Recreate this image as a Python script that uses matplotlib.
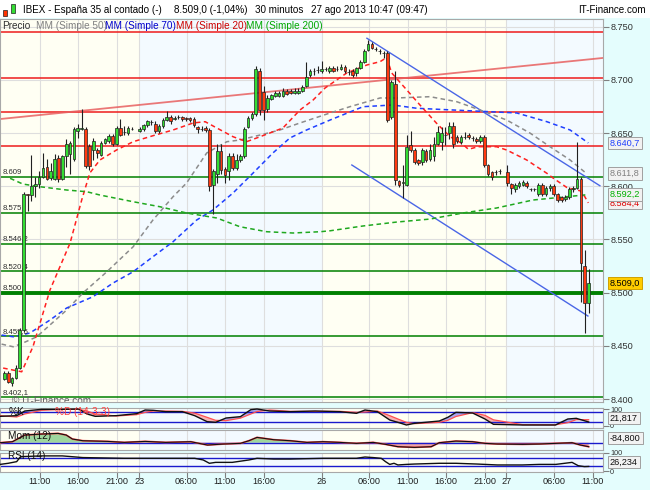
import matplotlib
matplotlib.use('Agg')
import matplotlib.pyplot as plt
import numpy as np
from matplotlib.patches import Rectangle

plt.rcParams['font.family'] = ['Liberation Sans', 'DejaVu Sans']

# ---------------- data: 30-minute candles (one slot each, NaN = no candle) -------------
nan = np.nan
opens = [8.419, 8.425, 8.415, 8.420, 8.429, 8.465, 8.593, 8.592, 8.600, 8.602,
         8.609, 8.618, 8.608, 8.607, 8.627, 8.607, 8.628, 8.630, 8.626, 8.652,
         8.654, 8.654, 8.638, 8.634, 8.634, 8.629, 8.641, 8.643, 8.647, 8.640,
         8.655, 8.651, 8.650, 8.654, nan, 8.652, 8.654, 8.658, 8.660, 8.659,
         8.652, 8.657, 8.662, 8.665, 8.663, 8.665, 8.665, 8.664, 8.664, 8.663,
         8.656, 8.654, 8.655, 8.653, 8.601, 8.612, 8.633, 8.616, 8.614, 8.628,
         8.617, 8.625, 8.628, 8.656, 8.664, 8.668, 8.708, 8.689, 8.673, 8.682,
         8.685, 8.685, 8.685, 8.690, 8.690, 8.688, 8.688, 8.690, 8.694, 8.705,
         8.708, 8.709, 8.708, 8.710, 8.708, 8.711, 8.710, 8.710, 8.712, 8.707,
         8.708, 8.706, 8.711, 8.717, 8.728, 8.734, 8.729, 8.727, 8.725, 8.725,
         8.665, 8.696, 8.605, 8.603, 8.601, 8.639, 8.634, 8.625, 8.623, 8.633,
         8.626, 8.628, 8.640, 8.642, 8.648, 8.650, 8.657, 8.646, 8.642, 8.646,
         8.648, 8.645, 8.644, 8.643, 8.646, 8.620, 8.613, 8.613, 8.614, nan,
         8.613, 8.602, 8.597, 8.600, 8.601, 8.603, 8.597, 8.597, 8.593, 8.601,
         8.593, 8.598, 8.600, 8.593, 8.590, 8.588, 8.590, 8.597, 8.598, 8.607,
         8.525, 8.490]
closes = [8.425, 8.416, 8.420, 8.429, 8.465, 8.593, 8.592, 8.600, 8.602, 8.609,
          8.617, 8.607, 8.614, 8.626, 8.607, 8.628, 8.640, 8.641, 8.654, 8.655,
          8.655, 8.619, 8.619, 8.643, 8.631, 8.641, 8.644, 8.647, 8.640, 8.655,
          8.648, 8.651, 8.655, 8.654, nan, 8.654, 8.658, 8.661, 8.660, 8.652,
          8.657, 8.662, 8.665, 8.661, 8.664, 8.665, 8.663, 8.663, 8.662, 8.658,
          8.654, 8.654, 8.653, 8.600, 8.614, 8.633, 8.615, 8.611, 8.628, 8.617,
          8.625, 8.628, 8.654, 8.664, 8.668, 8.710, 8.672, 8.672, 8.683, 8.686,
          8.688, 8.688, 8.690, 8.687, 8.688, 8.690, 8.690, 8.693, 8.703, 8.708,
          8.708, 8.709, 8.710, 8.710, 8.711, 8.708, 8.710, 8.712, 8.708, 8.707,
          8.705, 8.711, 8.717, 8.727, 8.734, 8.730, 8.729, 8.727, 8.725, 8.662,
          8.698, 8.606, 8.601, 8.604, 8.637, 8.634, 8.623, 8.622, 8.634, 8.625,
          8.634, 8.640, 8.651, 8.650, 8.648, 8.657, 8.640, 8.643, 8.646, 8.646,
          8.646, 8.645, 8.643, 8.646, 8.620, 8.612, 8.609, 8.613, 8.614, nan,
          8.603, 8.598, 8.601, 8.603, 8.604, 8.600, 8.597, 8.597, 8.601, 8.593,
          8.598, 8.600, 8.593, 8.587, 8.587, 8.590, 8.597, 8.598, 8.607, 8.528,
          8.490, 8.509]
highs = [8.426, 8.426, 8.421, 8.432, 8.467, 8.595, 8.593, 8.629, 8.609, 8.614,
         8.631, 8.626, 8.622, 8.630, 8.629, 8.629, 8.644, 8.643, 8.656, 8.659,
         8.673, 8.656, 8.640, 8.645, 8.636, 8.643, 8.645, 8.649, 8.649, 8.657,
         8.663, 8.657, 8.657, 8.656, nan, 8.656, 8.659, 8.662, 8.662, 8.661,
         8.659, 8.664, 8.671, 8.667, 8.666, 8.667, 8.666, 8.665, 8.665, 8.665,
         8.657, 8.657, 8.657, 8.655, 8.616, 8.640, 8.640, 8.618, 8.631, 8.631,
         8.630, 8.630, 8.656, 8.666, 8.670, 8.713, 8.711, 8.694, 8.686, 8.687,
         8.690, 8.690, 8.692, 8.691, 8.691, 8.692, 8.692, 8.695, 8.717, 8.710,
         8.711, 8.713, 8.718, 8.712, 8.713, 8.713, 8.713, 8.715, 8.714, 8.710,
         8.710, 8.712, 8.719, 8.729, 8.737, 8.736, 8.731, 8.729, 8.727, 8.727,
         8.700, 8.708, 8.606, 8.620, 8.648, 8.652, 8.636, 8.626, 8.636, 8.635,
         8.640, 8.646, 8.657, 8.656, 8.656, 8.660, 8.660, 8.648, 8.648, 8.651,
         8.650, 8.647, 8.646, 8.648, 8.648, 8.621, 8.614, 8.615, 8.616, nan,
         8.620, 8.603, 8.603, 8.605, 8.606, 8.605, 8.598, 8.598, 8.603, 8.603,
         8.600, 8.602, 8.602, 8.594, 8.591, 8.592, 8.599, 8.600, 8.642, 8.609,
         8.540, 8.522]
lows = [8.418, 8.415, 8.412, 8.419, 8.428, 8.463, 8.577, 8.586, 8.590, 8.598,
        8.608, 8.606, 8.606, 8.606, 8.604, 8.606, 8.618, 8.612, 8.624, 8.645,
        8.653, 8.617, 8.615, 8.625, 8.627, 8.628, 8.640, 8.641, 8.638, 8.639,
        8.647, 8.648, 8.648, 8.653, nan, 8.651, 8.652, 8.656, 8.658, 8.650,
        8.650, 8.655, 8.661, 8.659, 8.662, 8.663, 8.661, 8.661, 8.660, 8.656,
        8.650, 8.652, 8.651, 8.596, 8.574, 8.603, 8.612, 8.603, 8.606, 8.615,
        8.615, 8.623, 8.627, 8.655, 8.662, 8.666, 8.667, 8.662, 8.670, 8.681,
        8.684, 8.684, 8.684, 8.686, 8.687, 8.687, 8.687, 8.689, 8.693, 8.703,
        8.705, 8.706, 8.706, 8.708, 8.706, 8.707, 8.708, 8.709, 8.706, 8.705,
        8.703, 8.704, 8.710, 8.716, 8.727, 8.729, 8.727, 8.724, 8.721, 8.660,
        8.663, 8.601, 8.599, 8.589, 8.600, 8.632, 8.621, 8.620, 8.620, 8.623,
        8.624, 8.624, 8.639, 8.634, 8.639, 8.644, 8.636, 8.641, 8.640, 8.644,
        8.644, 8.643, 8.641, 8.641, 8.618, 8.610, 8.606, 8.611, 8.612, nan,
        8.600, 8.593, 8.595, 8.598, 8.600, 8.598, 8.596, 8.596, 8.591, 8.591,
        8.591, 8.596, 8.591, 8.585, 8.585, 8.586, 8.588, 8.595, 8.597, 8.491,
        8.462, 8.481]

# time-axis ticks (slot positions) and labels
tick_slots = [9.2, 19.0, 29.0, 34.9, 47.1, 57.0, 67.1, 82.1, 94.2, 104.3, 114.1,
              124.2, 129.7, 142.0, 152.1]
tick_labels = ['11:00', '16:00', '21:00', '23', '06:00', '11:00', '16:00', '26',
               '06:00', '11:00', '16:00', '21:00', '27', '06:00', '11:00']
day_breaks = [34.9, 82.1, 129.7]

# moving averages (slot, value)
ma20_x = [-0.3, 4.5, 7.4, 11.8, 17.0, 20.0, 22.1, 24.7, 29.0, 33.3, 38.4, 43.6, 48.8,
          51.9, 54.9, 59.1, 62.6, 66.1, 72.0, 76.4, 79.8, 82.9, 88.5, 93.7, 97.1,
          98.8, 100.1, 104.0, 107.4, 111.7, 115.2, 118.2, 119.9, 122.5, 127.2,
          129.8, 132.4, 135.0, 137.6, 140.2, 141.9, 145.3, 147.0, 148.8, 150.0, 150.9]
ma20_y = [8.4292, 8.4257, 8.4492, 8.5025, 8.5467, 8.5871, 8.6125, 8.6247, 8.6341,
          8.6419, 8.6475, 8.6529, 8.6595, 8.6607, 8.6548, 8.6466, 8.6419, 8.6466,
          8.6548, 8.6717, 8.6811, 8.6924, 8.7065, 8.7140, 8.7171, 8.7210, 8.7065,
          8.6905, 8.6764, 8.6592, 8.6466, 8.6404, 8.6348, 8.6372, 8.6372, 8.6341,
          8.6294, 8.6247, 8.6184, 8.6122, 8.6075, 8.5990, 8.5972, 8.5958, 8.5902,
          8.5844]
ma50_x = [-0.7, 2.3, 4.8, 8.4, 16.1, 20.3, 26.5, 33.3, 38.4, 43.6, 47.1, 52.3, 57.5,
          60.9, 66.1, 71.2, 76.4, 84.2, 89.3, 97.1, 101.4, 110.0, 116.9, 122.9,
          129.8, 135.8, 141.0, 146.2, 150.5]
ma50_y = [8.4517, 8.4492, 8.4527, 8.4586, 8.4837, 8.4997, 8.5197, 8.5432, 8.5683,
          8.5902, 8.6031, 8.6313, 8.6419, 8.6435, 8.6482, 8.6529, 8.6595, 8.6689,
          8.6748, 8.6830, 8.6830, 8.6842, 8.6795, 8.6717, 8.6623, 8.6501, 8.6372,
          8.6247, 8.6118]
ma70_x = [-0.7, 2.3, 6.6, 11.8, 16.1, 22.9, 28.1, 33.3, 38.4, 43.6, 49.7, 53.9, 59.1,
          64.3, 69.4, 73.8, 78.1, 84.2, 92.7, 100.4, 106.6, 115.9, 132.4, 140.2,
          146.2, 150.9]
ma70_y = [8.4602, 8.4586, 8.4621, 8.4743, 8.4856, 8.4962, 8.5091, 8.5197, 8.5338,
          8.5479, 8.5683, 8.5777, 8.5937, 8.6125, 8.6313, 8.6454, 8.6529, 8.6623,
          8.6748, 8.6764, 8.6733, 8.6717, 8.6689, 8.6607, 8.6529, 8.6407]
ma200_x = [1.5, 4.8, 9.2, 16.1, 21.3, 24.7, 33.3, 40.2, 47.1, 54.9, 60.9, 67.8, 74.6,
           81.6, 84.2, 92.7, 101.4, 110.0, 118.5, 127.2, 136.6, 145.3, 150.9]
ma200_y = [8.6075, 8.6021, 8.5996, 8.5965, 8.5949, 8.5918, 8.5855, 8.5808, 8.5749,
           8.5702, 8.5620, 8.5573, 8.5561, 8.5573, 8.5582, 8.5627, 8.5664, 8.5692,
           8.5749, 8.5796, 8.5871, 8.5902, 8.5922]

# horizontal support / resistance levels
red_levels = [8.7453, 8.7015, 8.6695, 8.6376]
green_levels = [8.609, 8.575, 8.5462, 8.5204, 8.500, 8.4595, 8.4021]
green_labels = ['8.609', '8.575', '8.546,2', '8.520,4', '8.500', '8.459,5', '8.402,1']
rise_line_x = [-1.1, 154.7]
rise_line_y = [8.6632, 8.7206]
chan_up_x = [93.7, 153.9]
chan_up_y = [8.7391, 8.6005]
chan_lo_x = [89.8, 150.8]
chan_lo_y = [8.6200, 8.4781]

# oscillators (slot, value)
stoch_x = [-1.1, 3.2, 5.3, 9.6, 15.0, 19.2, 21.4, 23.5, 28.9, 34.2, 36.4, 38.5, 41.7,
           46.0, 49.2, 52.4, 54.6, 57.3, 61.0, 63.7, 65.3, 68.5, 73.9, 80.3, 86.7,
           91.0, 93.2, 96.4, 99.6, 101.7, 103.9, 106.0, 112.4, 114.6, 116.7, 121.0,
           124.2, 126.4, 133.9, 142.4, 145.6, 147.8, 151.0]
stoch_k = [56, 60, 88, 98, 98, 100, 70, 56, 60, 72, 94, 92, 84, 84, 60, 24, 20, 46,
           54, 96, 100, 88, 84, 88, 84, 74, 94, 84, 34, 20, 4, 14, 28, 50, 80, 76, 40,
           8, 4, 4, 40, 44, 22]
stoch_d = [60, 52, 70, 92, 98, 98, 88, 70, 58, 66, 80, 88, 88, 86, 75, 50, 32, 30,
           45, 70, 85, 94, 86, 86, 86, 80, 82, 88, 60, 40, 20, 12, 20, 32, 55, 78, 62,
           35, 6, 5, 18, 36, 36]
mom_x = [-1.1, 2.1, 5.3, 9.6, 13.9, 16.0, 17.6, 20.3, 26.7, 31.0, 36.4, 41.7, 48.2,
         52.5, 56.7, 61.0, 63.2, 65.3, 69.6, 73.9, 78.2, 82.4, 86.7, 91.0, 95.3,
         98.5, 101.7, 106.0, 110.3, 112.4, 116.7, 121.0, 124.2, 127.4, 133.9, 138.2,
         142.5, 146.7, 148.9, 151.0]
mom_v = [0, 21, 163, 184, 198, 163, 78, 42, 28, 7, 28, 7, 21, -50, -28, -14, 42, 113,
         64, 42, 7, 21, 7, -14, 7, -35, -85, -99, -85, 0, 35, 21, -14, -28, -35,
         -28, -14, 0, -50, -85]
rsi_x = [-1.1, 1.0, 3.2, 4.2, 9.6, 15.0, 20.3, 31.0, 41.7, 49.2, 51.4, 53.0, 54.6,
         58.9, 63.2, 65.3, 69.6, 73.9, 82.4, 91.0, 93.2, 95.3, 97.4, 98.5, 99.6,
         100.7, 101.7, 103.9, 106.0, 112.4, 116.7, 122.1, 127.4, 133.9, 138.2, 142.5,
         146.7, 148.3, 149.9, 151.0]
rsi_v = [37, 43, 52, 79, 83, 83, 74, 70, 70, 70, 61, 43, 48, 48, 61, 70, 66, 66, 70,
         70, 77, 74, 70, 52, 37, 43, 34, 37, 39, 43, 43, 39, 34, 34, 37, 37, 48, 30,
         25, 26]

# ---------------- drawing -------------
W, H = 650, 490
fig = plt.figure(figsize=(6.5, 4.9), dpi=100)
fig.patch.set_facecolor('#e4fdfd')

def px_axes(x0, y0, x1, y1):
    return fig.add_axes([x0 / W, 1 - y1 / H, (x1 - x0) / W, (y1 - y0) / H])

XMIN, XMAX = -1.11, 154.7
CREAM, BLUEISH = '#fffff3', '#f3faff'
GRID = '#dedede'
FS = 7.2
AX_FS = 6.6

def shade(ax):
    edges = [XMIN] + day_breaks + [XMAX]
    for i in range(len(edges) - 1):
        ax.axvspan(edges[i], edges[i + 1], color=CREAM if i % 2 == 0 else BLUEISH,
                   zorder=0, lw=0)
    for t in tick_slots:
        ax.axvline(t, color=GRID, lw=0.8, zorder=0.5)
    ax.set_xlim(XMIN, XMAX)
    for s in ax.spines.values():
        s.set_color('#a8a8a8')
        s.set_linewidth(0.8)

# title bar
fig.add_artist(Rectangle((0, 1 - 18 / H), 1, 18 / H, transform=fig.transFigure,
                         fc='white', ec='none', zorder=0))
fig.add_artist(Rectangle((3 / W, 1 - 16 / H), 4 / W, 6 / H, transform=fig.transFigure,
                         fc='#ff3300', ec='#202020', lw=0.5))
fig.add_artist(Rectangle((11 / W, 1 - 13 / H), 4 / W, 9 / H, transform=fig.transFigure,
                         fc='#33dd33', ec='#202020', lw=0.5))
ty = 1 - 10 / H
fig.text(23 / W, ty, 'IBEX - España 35 al contado (-)', fontsize=7.1, va='center')
fig.text(174 / W, ty, '8.509,0 (-1,04%)', fontsize=7.1, va='center')
fig.text(255 / W, ty, '30 minutos', fontsize=7.1, va='center')
fig.text(311 / W, ty, '27 ago 2013 10:47 (09:47)', fontsize=7.1, va='center')
fig.text(646 / W, ty, 'IT-Finance.com', fontsize=7.1, va='center', ha='right')

# ---- main price panel ----
ax = px_axes(0, 19, 603, 402)
shade(ax)
YLO, YHI = 8.3973, 8.7572
ax.set_ylim(YLO, YHI)
price_ticks = [8.40, 8.45, 8.50, 8.55, 8.60, 8.65, 8.70, 8.75]
for v in price_ticks:
    ax.axhline(v, color=GRID, lw=0.8, zorder=0.5)

for v in red_levels:
    ax.axhline(v, color='#ee1c1c', lw=1.1, zorder=1)
for v in green_levels:
    ax.axhline(v, color='#008000', lw=2.8 if abs(v - 8.5) < 1e-6 else 1.1, zorder=1)
for v, lab in zip(green_levels, green_labels):
    ax.annotate(lab, xy=(0, v), xycoords=('axes fraction', 'data'), xytext=(2, 0.8),
                textcoords='offset points', fontsize=5.6, color='#303030',
                va='bottom', ha='left', zorder=3.5)

ax.plot(rise_line_x, rise_line_y, color='#e86060', lw=1.3, alpha=0.85, zorder=2)
ax.plot(chan_up_x, chan_up_y, color='#4a66e6', lw=1.0, zorder=2)
ax.plot(chan_lo_x, chan_lo_y, color='#4a66e6', lw=1.0, zorder=2)

dash = (0, (3, 2.2))
ax.plot(ma50_x, ma50_y, color='#8c8c8c', lw=1.1, ls=dash, zorder=3)
ax.plot(ma70_x, ma70_y, color='#1f3fff', lw=1.1, ls=dash, zorder=3)
ax.plot(ma20_x, ma20_y, color='#ff2020', lw=1.1, ls=dash, zorder=3)
ax.plot(ma200_x, ma200_y, color='#1fa81f', lw=1.1, ls=dash, zorder=3)

o = np.array(opens); c = np.array(closes); h = np.array(highs); l = np.array(lows)
k = np.arange(len(o))
ok = ~np.isnan(o)
ax.vlines(k[ok], l[ok], h[ok], color='#202020', lw=0.8, zorder=4)
bcol = np.where(c[ok] >= o[ok], '#33dd33', '#ff3a10')
ax.bar(k[ok], np.abs(c[ok] - o[ok]), bottom=np.minimum(o[ok], c[ok]), width=0.7,
       color=bcol, edgecolor='#202020', lw=0.5, zorder=5)

ax.text(2, 8.3985, '© IT-Finance.com', fontsize=FS, color='#606060', va='center',
        ha='left', zorder=3.5, clip_on=True)

# legend line
lx = [2, 36, 105, 176, 246]
ltxt = ['Precio', 'MM (Simple 50)', 'MM (Simple 70)', 'MM (Simple 20)', 'MM (Simple 200)']
lcol = ['#303030', '#808080', '#0000cc', '#cc0000', '#00a800']
for x0, t, col in zip(lx, ltxt, lcol):
    fig.text(x0 / W, 1 - 26 / H, t, fontsize=FS, color=col, va='center', ha='left')

ax.yaxis.tick_right()
ax.set_yticks(price_ticks)
ax.set_yticklabels([f'{v:.3f}' for v in price_ticks])
ax.tick_params(axis='y', length=4, width=0.8, color='#808080', labelsize=AX_FS,
               labelcolor='#303030', pad=1.5)
ax.set_xticks([])

def tag(axis, yv, text, fc, tc, ec='#a0a0a0'):
    axis.annotate(text, xy=(1, yv), xycoords=('axes fraction', 'data'),
                  xytext=(5, 0), textcoords='offset points', fontsize=AX_FS, color=tc,
                  va='center', ha='left', zorder=10, annotation_clip=False,
                  bbox=dict(boxstyle='square,pad=0.2', fc=fc, ec=ec, lw=0.7))

tag(ax, 8.6407, '8.640,7', '#f2f2f2', '#1f3fff')
tag(ax, 8.6118, '8.611,8', '#f2f2f2', '#808080')
tag(ax, 8.5844, '8.584,4', '#f2f2f2', '#dd0000')
tag(ax, 8.5922, '8.592,2', '#f2f2f2', '#00b000')
tag(ax, 8.5090, '8.509,0', '#ffcc00', '#000000', ec='#d0a000')

# ---- %K panel ----
a1 = px_axes(0, 407.5, 603, 427.5)
shade(a1)
a1.set_ylim(-11, 109)
sx = np.array(stoch_x); skv = np.array(stoch_k); sdv = np.array(stoch_d)
a1.fill_between(sx, skv, sdv, where=skv >= sdv, color='#a8a8f0', lw=0, interpolate=True, zorder=1)
a1.fill_between(sx, skv, sdv, where=skv < sdv, color='#f6b3b3', lw=0, interpolate=True, zorder=1)
a1.axhline(80, color='#1a1acc', lw=1.0, zorder=2)
a1.axhline(20, color='#1a1acc', lw=1.0, zorder=2)
a1.plot(sx, sdv, color='#ff5050', lw=0.9, zorder=3)
a1.plot(sx, skv, color='#101010', lw=1.0, zorder=4)
a1.text(1, 80, '%K', fontsize=FS, color='#101010', va='center', zorder=6)
a1.text(13, 80, '%D (14-3-3)', fontsize=FS, color='#ff4040', va='center', zorder=6)

# ---- Momentum panel ----
a2 = px_axes(0, 430, 603, 450)
shade(a2)
a2.set_ylim(-155, 270)
mx = np.array(mom_x); mv = np.array(mom_v)
a2.fill_between(mx, mv, 0, where=mv >= 0, color='#9ed69e', lw=0, interpolate=True, zorder=1)
a2.fill_between(mx, mv, 0, where=mv < 0, color='#f2a6a6', lw=0, interpolate=True, zorder=1)
a2.axhline(0, color='#1a1acc', lw=1.0, zorder=2)
a2.plot(mx, mv, color='#ff5050', lw=1.3, zorder=3)
a2.plot(mx, mv, color='#101010', lw=0.8, zorder=4)
a2.text(1, 150, 'Mom (12)', fontsize=FS, color='#101010', va='center', zorder=6)

# ---- RSI panel ----
a3 = px_axes(0, 452.5, 603, 471.5)
shade(a3)
a3.set_ylim(-1.4, 101.4)
a3.axhline(70, color='#1a1acc', lw=1.0, zorder=2)
a3.axhline(30, color='#1a1acc', lw=1.0, zorder=2)
a3.plot(rsi_x, rsi_v, color='#101010', lw=1.0, zorder=3)
a3.text(1, 84, 'RSI (14)', fontsize=FS, color='#101010', va='center', zorder=6)

for a, has_lbl in ((a1, True), (a2, False), (a3, True)):
    a.yaxis.tick_right()
    a.tick_params(axis='y', length=4, width=0.8, color='#808080', labelsize=5.2,
                  labelcolor='#303030', pad=1)
    if has_lbl:
        a.set_yticks([0, 100])
        a.set_yticklabels(['0', '100'])
    else:
        a.set_yticks([])
for a in (a1, a2):
    a.set_xticks([])

tag(a1, 46, '21,817', '#f2f2f2', '#101010')
tag(a2, 100, '-84,800', '#f2f2f2', '#101010')
tag(a3, 50, '26,234', '#f2f2f2', '#101010')

a3.set_xticks(tick_slots)
a3.set_xticklabels(tick_labels)
a3.tick_params(axis='x', length=4, width=0.8, color='#808080', labelsize=6.6,
               labelcolor='#202020', pad=0)

fig.savefig('out.png', dpi=100, facecolor=fig.get_facecolor())
